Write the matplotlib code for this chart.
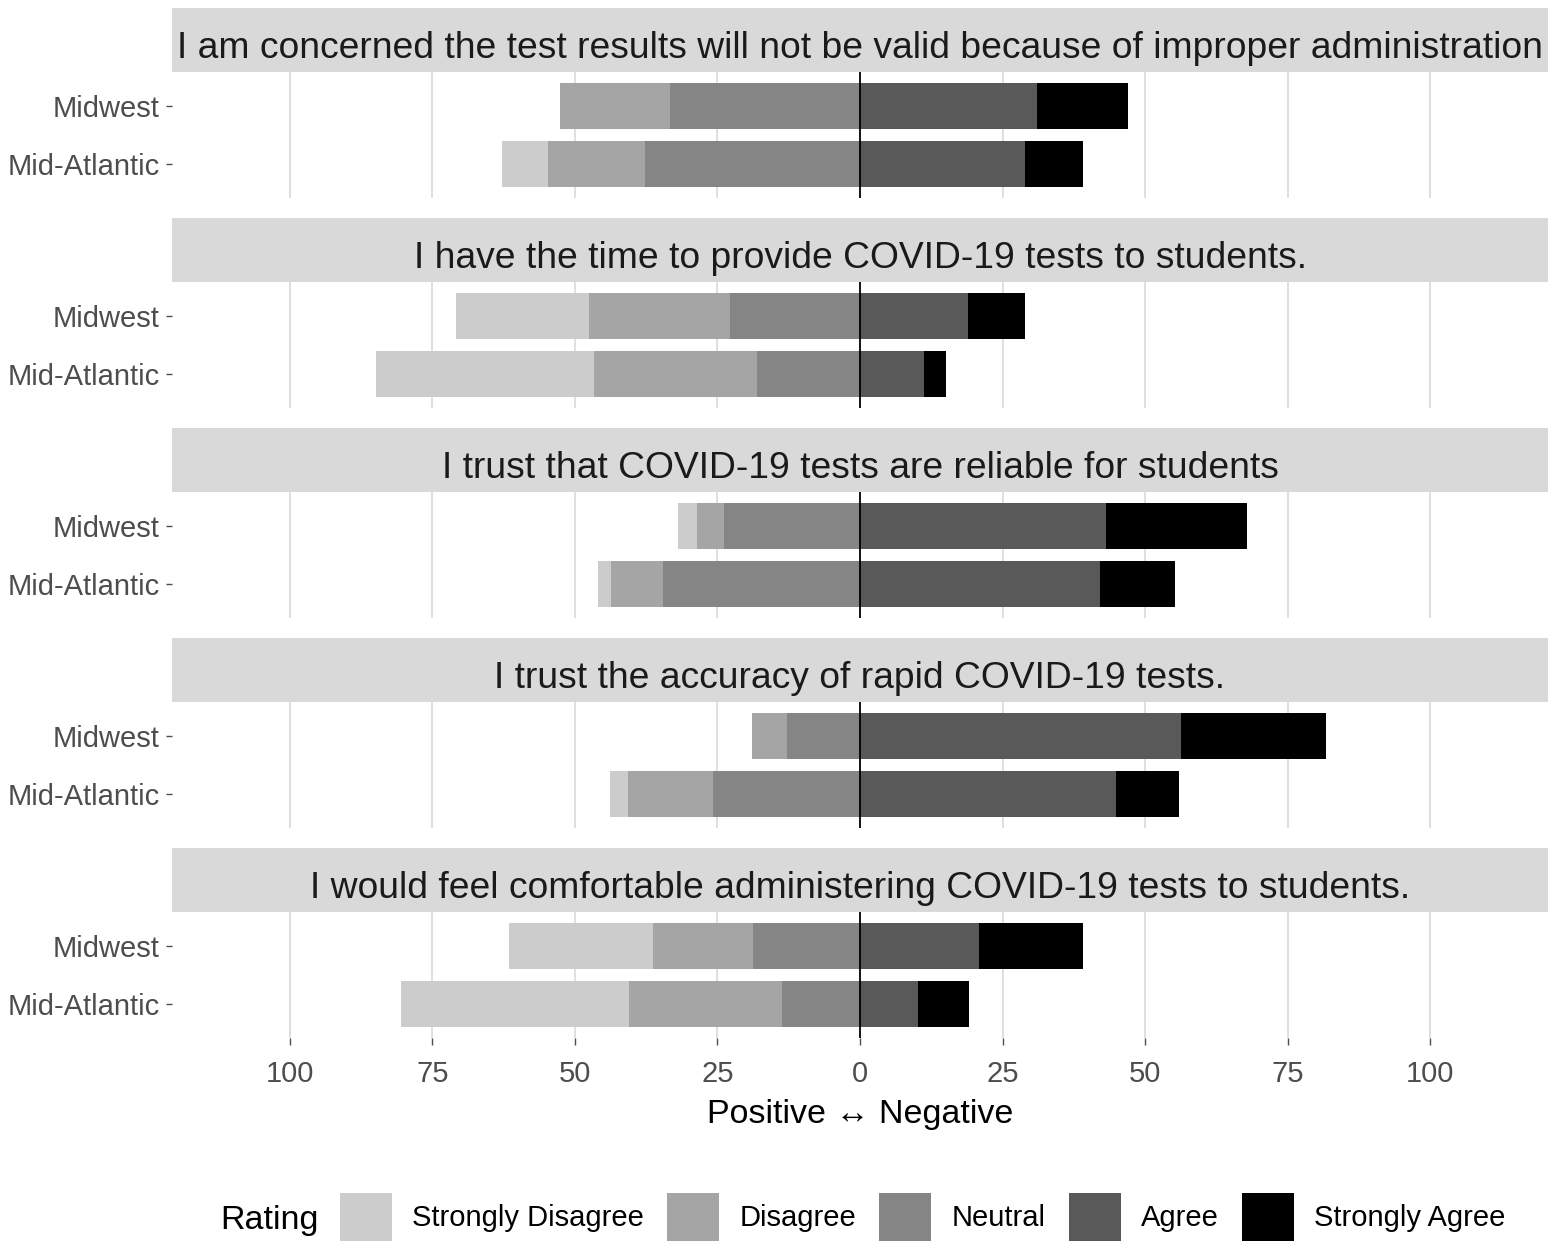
import numpy as np
import matplotlib
matplotlib.use('Agg')
from matplotlib import pyplot as plt
from matplotlib.patches import Patch
from matplotlib.transforms import ScaledTranslation

plt.rcParams['font.family'] = ['Liberation Sans', 'DejaVu Sans']

questions = ['I am concerned the test results will not be valid because of improper administration',
             'I have the time to provide COVID-19 tests to students.',
             'I trust that COVID-19 tests are reliable for students',
             'I trust the accuracy of rapid COVID-19 tests.',
             'I would feel comfortable administering COVID-19 tests to students.']
regions = ['Midwest', 'Mid-Atlantic']
ratings = ['Strongly Disagree', 'Disagree', 'Neutral', 'Agree', 'Strongly Agree']

# percent per rating, [Midwest, Mid-Atlantic] for each question
strongly_disagree = [[0.0, 8.1], [23.4, 38.2], [3.3, 2.3], [0.0, 3.2], [25.3, 40.0]]
disagree = [[19.3, 17.0], [24.7, 28.6], [4.7, 9.1], [6.1, 14.9], [17.5, 26.8]]
neutral = [[33.3, 37.7], [22.8, 18.1], [23.9, 34.6], [12.8, 25.8], [18.8, 13.7]]
agree = [[31.1, 28.9], [18.9, 11.2], [43.2, 42.1], [56.3, 44.9], [20.9, 10.2]]
strongly_agree = [[15.9, 10.2], [10.0, 3.9], [24.7, 13.2], [25.5, 11.1], [18.2, 8.9]]

colors = ['#cccccc', '#a5a5a5', '#858585', '#595959', '#000000']

W, H = 1559, 1250
fig = plt.figure(figsize=(W / 100, H / 100), dpi=100)

left, right = 172, 1548
strip_h, panel_h, pitch, top0 = 64, 126, 210, 8
xlim = 120.7
ticks = [-100, -75, -50, -25, 0, 25, 50, 75, 100]
shift = ScaledTranslation(0, -6 / 100, fig.dpi_scale_trans)

for i, q in enumerate(questions):
    st = top0 + i * pitch
    sax = fig.add_axes([left / W, 1 - (st + strip_h) / H, (right - left) / W, strip_h / H])
    sax.set_facecolor('#d9d9d9')
    sax.set_xticks([])
    sax.set_yticks([])
    for s in sax.spines.values():
        s.set_visible(False)
    sax.text(0.5, 0.36, q, ha='center', va='center', fontsize=26.8, color='#1a1a1a', transform=sax.transAxes)

    pt = st + strip_h
    ax = fig.add_axes([left / W, 1 - (pt + panel_h) / H, (right - left) / W, panel_h / H])
    ax.set_facecolor('white')
    for s in ax.spines.values():
        s.set_visible(False)
    ax.set_xlim(-xlim, xlim)
    ax.set_ylim(2.6, 0.4)
    for t in ticks:
        if t != 0:
            ax.axvline(t, color='#d6d6d6', lw=1.1, zorder=0)

    y = np.array([1, 2])
    sd = np.array(strongly_disagree[i])
    d = np.array(disagree[i])
    n = np.array(neutral[i])
    a = np.array(agree[i])
    sa = np.array(strongly_agree[i])
    # negative side: neutral next to zero, then disagree, then strongly disagree
    ax.barh(y, -n, height=0.8, color=colors[2], zorder=2)
    ax.barh(y, -d, left=-n, height=0.8, color=colors[1], zorder=2)
    ax.barh(y, -sd, left=-n - d, height=0.8, color=colors[0], zorder=2)
    ax.barh(y, a, height=0.8, color=colors[3], zorder=2)
    ax.barh(y, sa, left=a, height=0.8, color=colors[4], zorder=2)
    ax.axvline(0, color='black', lw=1.3, zorder=3)

    ax.set_yticks(y)
    ax.set_yticklabels(regions, fontsize=21, color='#4d4d4d')
    for lab in ax.get_yticklabels():
        lab.set_transform(lab.get_transform() + shift)
    ax.tick_params(axis='y', length=4, width=1, color='#4d4d4d', pad=5)
    ax.set_xticks(ticks)
    if i == len(questions) - 1:
        ax.set_xticklabels([str(abs(t)) for t in ticks], fontsize=21, color='#4d4d4d')
        ax.tick_params(axis='x', length=5, width=1, color='#4d4d4d', pad=11)
        ax.set_xlabel('Positive \u2194 Negative', fontsize=24.5, color='black', labelpad=8)
    else:
        ax.tick_params(axis='x', length=0, labelbottom=False)

handles = [Patch(facecolor=c, edgecolor='none') for c in colors]
fig.text(220 / W, 1 - 1221 / H, 'Rating', fontsize=24.5, va='center', ha='left')
fig.legend(handles, ratings, loc='center left', bbox_to_anchor=(340 / W, 1 - 1217 / H),
           ncol=5, frameon=False, fontsize=21, handlelength=1.78, handleheight=2.2,
           handletextpad=0.69, columnspacing=0.8, borderpad=0, borderaxespad=0)

fig.savefig('out.png', dpi=100)
